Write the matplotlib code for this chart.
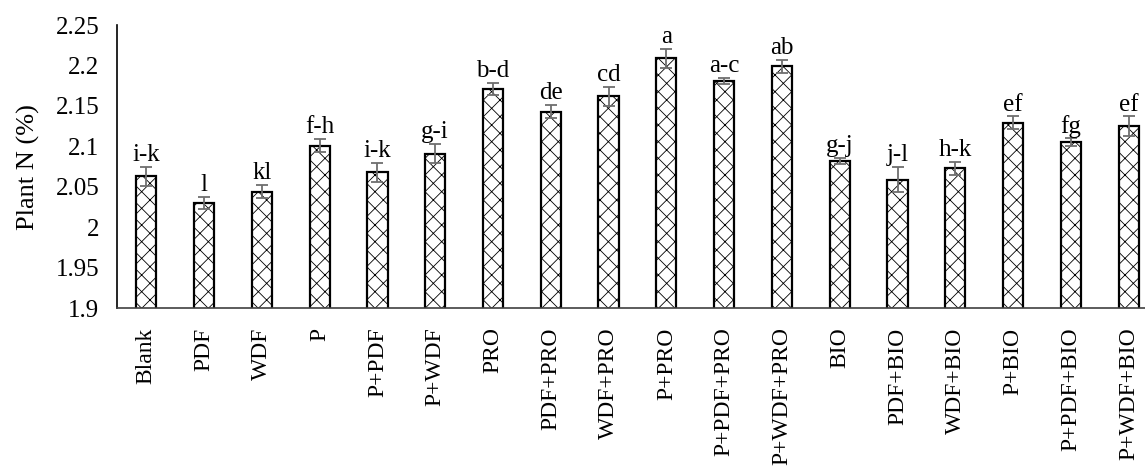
import matplotlib
matplotlib.use("Agg")
import matplotlib.pyplot as plt
import numpy as np

treatments = ["Blank", "PDF", "WDF", "P", "P+PDF", "P+WDF", "PRO", "PDF+PRO",
              "WDF+PRO", "P+PRO", "P+PDF+PRO", "P+WDF+PRO", "BIO", "PDF+BIO",
              "WDF+BIO", "P+BIO", "P+PDF+BIO", "P+WDF+BIO"]
plant_n = [2.063, 2.030, 2.044, 2.101, 2.068, 2.091, 2.171, 2.143,
           2.162, 2.209, 2.181, 2.199, 2.082, 2.059, 2.073, 2.129, 2.105, 2.125]
std_err = [0.012, 0.007, 0.008, 0.008, 0.012, 0.012, 0.008, 0.008,
           0.012, 0.012, 0.004, 0.008, 0.004, 0.016, 0.008, 0.008, 0.005, 0.012]
letters = ["i-k", "l", "kl", "f-h", "i-k", "g-i", "b-d", "de",
           "cd", "a", "a-c", "ab", "g-j", "j-l", "h-k", "ef", "fg", "ef"]

plt.rcParams["font.family"] = ["Liberation Serif", "DejaVu Serif"]
plt.rcParams["hatch.linewidth"] = 0.6

fig = plt.figure(figsize=(11.45, 4.66), dpi=100)
ax = fig.add_axes([0.1025, 0.339, 0.9085, 0.607])

x = np.arange(len(treatments))
ax.bar(x, plant_n, width=0.35, bottom=0, color="white", edgecolor="black",
       linewidth=1.6, hatch="xx", zorder=2)
ax.errorbar(x, plant_n, yerr=std_err, fmt="none", ecolor="#6e6e6e",
            elinewidth=1.3, capsize=4, capthick=1.3, zorder=3)

for xi, v, e, lab in zip(x, plant_n, std_err, letters):
    ax.text(xi, v + e + 0.001, lab, ha="center", va="bottom", fontsize=18)

ax.set_xlim(-0.5, len(treatments) - 0.5)
ax.set_ylim(1.9, 2.25)
ax.set_yticks([1.9, 1.95, 2.0, 2.05, 2.1, 2.15, 2.2, 2.25])
ax.set_yticklabels(["1.9", "1.95", "2", "2.05", "2.1", "2.15", "2.2", "2.25"])
ax.set_xticks(x)
ax.set_xticklabels(treatments, rotation=90)
ax.tick_params(axis="both", length=0)
ax.tick_params(axis="y", labelsize=18, pad=13)
ax.tick_params(axis="x", labelsize=17, pad=14)
ax.set_ylabel("Plant N (%)", fontsize=19, labelpad=11)

for side in ["top", "right"]:
    ax.spines[side].set_visible(False)
ax.spines["left"].set_linewidth(1.2)
ax.spines["bottom"].set_linewidth(1.2)
ax.spines["bottom"].set_color("#404040")

fig.savefig("out.png", dpi=100)
